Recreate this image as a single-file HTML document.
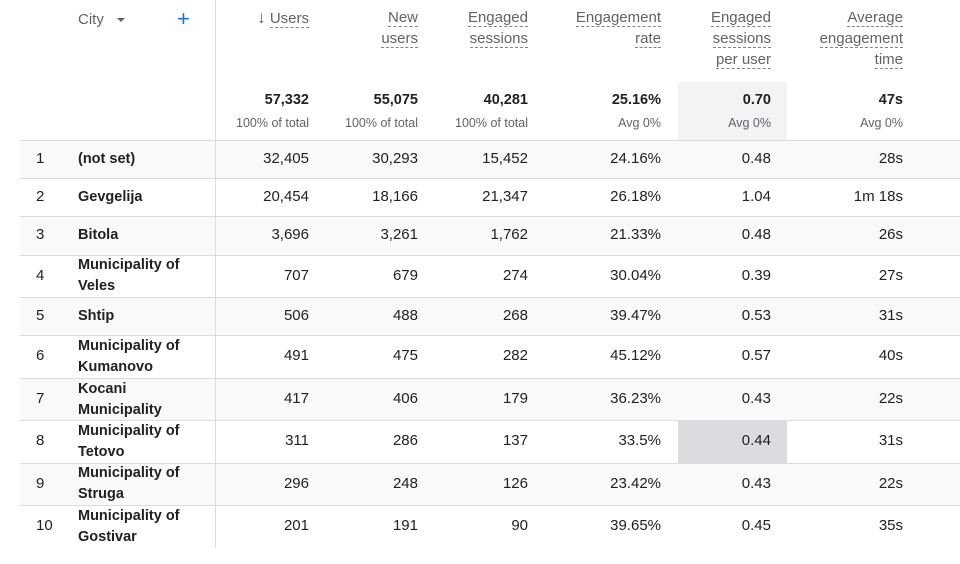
<!DOCTYPE html>
<html><head><meta charset="utf-8"><style>
body{margin:0;width:960px;height:564px;background:#fff;position:relative;overflow:hidden;font-family:"Liberation Sans",Arial,sans-serif;color:#202124;font-size:15px}
div{position:absolute}
.n{width:200px;text-align:right;line-height:20px}
.h{width:200px;text-align:right;line-height:21px;color:#5f6368;font-size:15px}
.h span{border-bottom:1px dashed #80868b}
.t{width:200px;text-align:right;line-height:20px;font-size:14.5px;font-weight:bold}
.s{width:200px;text-align:right;line-height:16px;font-size:12.5px;color:#5f6368}
.row{left:20px;width:940px;border-top:1px solid #dadce0}
.sh{background:#f8f9fa}
.i{left:36px;line-height:20px}
.c{left:78px;line-height:21px;font-weight:bold;width:135px;font-size:14.5px}
</style></head><body>
<div style="left:678px;top:82px;width:109px;height:58px;background:#f1f3f4"></div>
<div class="row sh" style="top:140px;height:38px"></div>
<div class="row" style="top:178px;height:38px"></div>
<div class="row sh" style="top:216px;height:39px"></div>
<div class="row" style="top:255px;height:42px"></div>
<div class="row sh" style="top:297px;height:38px"></div>
<div class="row" style="top:335px;height:43px"></div>
<div class="row sh" style="top:378px;height:42px"></div>
<div class="row" style="top:420px;height:43px"></div>
<div class="row sh" style="top:463px;height:42px"></div>
<div class="row" style="top:505px;height:43px"></div>
<div style="left:678px;top:421px;width:109px;height:42px;background:#dadce0"></div>
<div style="left:215px;top:0;width:1px;height:548px;background:#dadce0"></div>

<div style="left:78px;top:10px;color:#5f6368;line-height:20px">City</div>
<div style="left:117px;top:18px;width:0;height:0;border-left:4px solid transparent;border-right:4px solid transparent;border-top:4px solid #5f6368"></div>
<div style="left:177px;top:6px;color:#1a73e8;font-size:22px;line-height:26px">+</div>

<div class="h" style="left:109px;top:7px"><b style="font-size:17px">&#8595;</b> <span>Users</span></div>
<div class="h" style="left:218px;top:7px"><span>New</span><br><span>users</span></div>
<div class="h" style="left:328px;top:7px"><span>Engaged</span><br><span>sessions</span></div>
<div class="h" style="left:461px;top:7px"><span>Engagement</span><br><span>rate</span></div>
<div class="h" style="left:571px;top:7px"><span>Engaged</span><br><span>sessions</span><br><span>per user</span></div>
<div class="h" style="left:703px;top:7px"><span>Average</span><br><span>engagement</span><br><span>time</span></div>

<div class="t" style="left:109px;top:90px">57,332</div><div class="s" style="left:109px;top:115px">100% of total</div>
<div class="t" style="left:218px;top:90px">55,075</div><div class="s" style="left:218px;top:115px">100% of total</div>
<div class="t" style="left:328px;top:90px">40,281</div><div class="s" style="left:328px;top:115px">100% of total</div>
<div class="t" style="left:461px;top:90px">25.16%</div><div class="s" style="left:461px;top:115px">Avg 0%</div>
<div class="t" style="left:571px;top:90px">0.70</div><div class="s" style="left:571px;top:115px">Avg 0%</div>
<div class="t" style="left:703px;top:90px">47s</div><div class="s" style="left:703px;top:115px">Avg 0%</div>

<div class="i" style="top:149px">1</div><div class="c" style="top:149px">(not set)</div>
<div class="n" style="left:109px;top:149px">32,405</div><div class="n" style="left:218px;top:149px">30,293</div><div class="n" style="left:328px;top:149px">15,452</div><div class="n" style="left:461px;top:149px">24.16%</div><div class="n" style="left:571px;top:149px">0.48</div><div class="n" style="left:703px;top:149px">28s</div>

<div class="i" style="top:187px">2</div><div class="c" style="top:187px">Gevgelija</div>
<div class="n" style="left:109px;top:187px">20,454</div><div class="n" style="left:218px;top:187px">18,166</div><div class="n" style="left:328px;top:187px">21,347</div><div class="n" style="left:461px;top:187px">26.18%</div><div class="n" style="left:571px;top:187px">1.04</div><div class="n" style="left:703px;top:187px">1m 18s</div>

<div class="i" style="top:225px">3</div><div class="c" style="top:225px">Bitola</div>
<div class="n" style="left:109px;top:225px">3,696</div><div class="n" style="left:218px;top:225px">3,261</div><div class="n" style="left:328px;top:225px">1,762</div><div class="n" style="left:461px;top:225px">21.33%</div><div class="n" style="left:571px;top:225px">0.48</div><div class="n" style="left:703px;top:225px">26s</div>

<div class="i" style="top:266px">4</div><div class="c" style="top:255px">Municipality of<br>Veles</div>
<div class="n" style="left:109px;top:266px">707</div><div class="n" style="left:218px;top:266px">679</div><div class="n" style="left:328px;top:266px">274</div><div class="n" style="left:461px;top:266px">30.04%</div><div class="n" style="left:571px;top:266px">0.39</div><div class="n" style="left:703px;top:266px">27s</div>

<div class="i" style="top:306px">5</div><div class="c" style="top:306px">Shtip</div>
<div class="n" style="left:109px;top:306px">506</div><div class="n" style="left:218px;top:306px">488</div><div class="n" style="left:328px;top:306px">268</div><div class="n" style="left:461px;top:306px">39.47%</div><div class="n" style="left:571px;top:306px">0.53</div><div class="n" style="left:703px;top:306px">31s</div>

<div class="i" style="top:346px">6</div><div class="c" style="top:336px">Municipality of<br>Kumanovo</div>
<div class="n" style="left:109px;top:346px">491</div><div class="n" style="left:218px;top:346px">475</div><div class="n" style="left:328px;top:346px">282</div><div class="n" style="left:461px;top:346px">45.12%</div><div class="n" style="left:571px;top:346px">0.57</div><div class="n" style="left:703px;top:346px">40s</div>

<div class="i" style="top:389px">7</div><div class="c" style="top:379px">Kocani<br>Municipality</div>
<div class="n" style="left:109px;top:389px">417</div><div class="n" style="left:218px;top:389px">406</div><div class="n" style="left:328px;top:389px">179</div><div class="n" style="left:461px;top:389px">36.23%</div><div class="n" style="left:571px;top:389px">0.43</div><div class="n" style="left:703px;top:389px">22s</div>

<div class="i" style="top:431px">8</div><div class="c" style="top:421px">Municipality of<br>Tetovo</div>
<div class="n" style="left:109px;top:431px">311</div><div class="n" style="left:218px;top:431px">286</div><div class="n" style="left:328px;top:431px">137</div><div class="n" style="left:461px;top:431px">33.5%</div><div class="n" style="left:571px;top:431px">0.44</div><div class="n" style="left:703px;top:431px">31s</div>

<div class="i" style="top:474px">9</div><div class="c" style="top:463px">Municipality of<br>Struga</div>
<div class="n" style="left:109px;top:474px">296</div><div class="n" style="left:218px;top:474px">248</div><div class="n" style="left:328px;top:474px">126</div><div class="n" style="left:461px;top:474px">23.42%</div><div class="n" style="left:571px;top:474px">0.43</div><div class="n" style="left:703px;top:474px">22s</div>

<div class="i" style="top:516px">10</div><div class="c" style="top:506px">Municipality of<br>Gostivar</div>
<div class="n" style="left:109px;top:516px">201</div><div class="n" style="left:218px;top:516px">191</div><div class="n" style="left:328px;top:516px">90</div><div class="n" style="left:461px;top:516px">39.65%</div><div class="n" style="left:571px;top:516px">0.45</div><div class="n" style="left:703px;top:516px">35s</div>
</body></html>
